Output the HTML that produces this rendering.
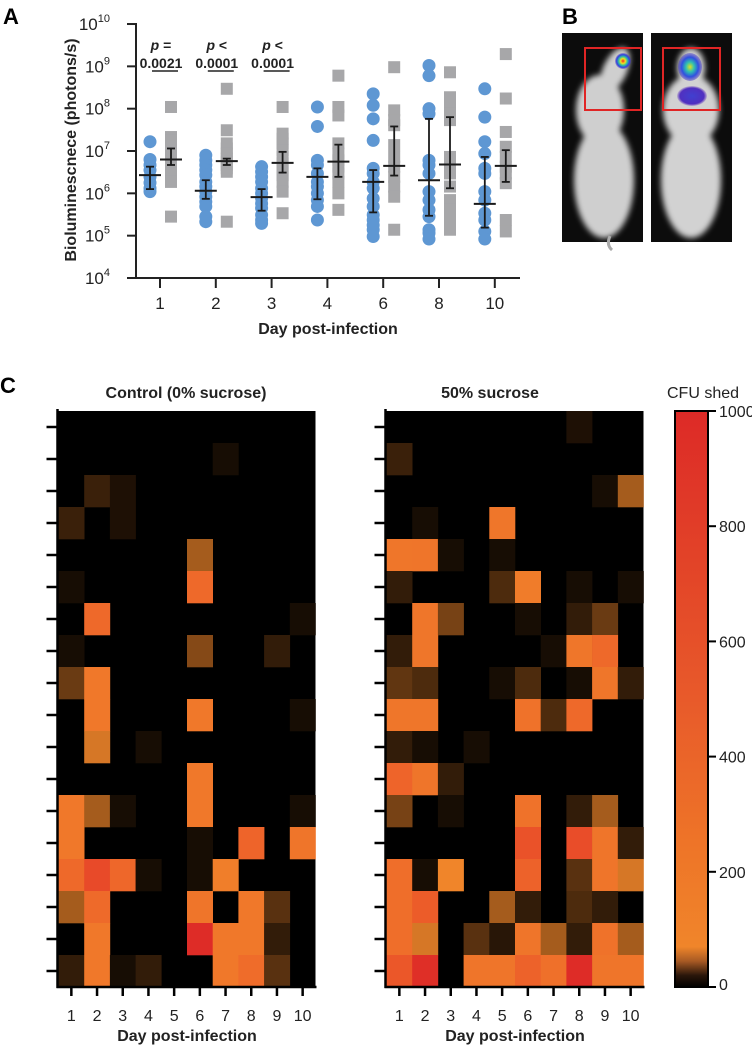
<!DOCTYPE html>
<html><head><meta charset="utf-8"><style>
body{margin:0;background:#fff;}
svg{display:block;font-family:"Liberation Sans",Arial,sans-serif;}
</style></head><body>
<svg id="fig" width="752" height="1048" viewBox="0 0 752 1048" xmlns="http://www.w3.org/2000/svg">
<defs>
<linearGradient id="cbar" x1="0" y1="1" x2="0" y2="0">
<stop offset="0" stop-color="#000"/><stop offset="0.02" stop-color="#2a160a"/><stop offset="0.045" stop-color="#a85a24"/><stop offset="0.07" stop-color="#f0852a"/><stop offset="0.25" stop-color="#ee7428"/><stop offset="0.5" stop-color="#e85a2a"/><stop offset="0.75" stop-color="#e24228"/><stop offset="1" stop-color="#dd2a27"/>
</linearGradient>
<radialGradient id="blob1"><stop offset="0" stop-color="#ff2020"/><stop offset="0.3" stop-color="#f0e020"/><stop offset="0.55" stop-color="#30c0a0"/><stop offset="0.8" stop-color="#3040e0"/><stop offset="1" stop-color="#4030c0" stop-opacity="0.3"/></radialGradient>
<radialGradient id="blob2"><stop offset="0" stop-color="#e0e020"/><stop offset="0.35" stop-color="#30c0b0"/><stop offset="0.7" stop-color="#3050e0"/><stop offset="1" stop-color="#4030c0" stop-opacity="0.4"/></radialGradient>
<radialGradient id="blob3"><stop offset="0" stop-color="#4040d0"/><stop offset="0.8" stop-color="#5030c0"/><stop offset="1" stop-color="#6030c0" stop-opacity="0.2"/></radialGradient>
<filter id="bl"><feGaussianBlur stdDeviation="3"/></filter>
</defs>

<!-- Panel labels -->
<text x="3" y="24" font-size="22" font-weight="bold">A</text>
<text x="562" y="24" font-size="22" font-weight="bold">B</text>
<text x="0" y="393" font-size="22" font-weight="bold">C</text>

<!-- Panel B -->
<g>
<rect x="562" y="33" width="81" height="209" fill="#0c0c0c"/>
<g filter="url(#bl)" fill="#cfcfcf">
<ellipse cx="604" cy="180" rx="30" ry="58"/><ellipse cx="600" cy="110" rx="24" ry="35"/><ellipse cx="615" cy="70" rx="12" ry="24" transform="rotate(25 615 70)"/>
</g>
<path d="M610 236 Q606 245 612 250" stroke="#aaa" stroke-width="3" fill="none"/>
<circle cx="623" cy="61" r="8" fill="url(#blob1)"/>
<rect x="585" y="48" width="56" height="62" fill="none" stroke="#e02525" stroke-width="2"/>
</g>
<g>
<rect x="651" y="33" width="81" height="209" fill="#0c0c0c"/>
<g filter="url(#bl)" fill="#d2d2d2">
<ellipse cx="691" cy="180" rx="30" ry="58"/><ellipse cx="691" cy="110" rx="28" ry="35"/><ellipse cx="691" cy="68" rx="14" ry="20"/>
</g>
<ellipse cx="690" cy="67" rx="12" ry="14" fill="url(#blob2)"/>
<ellipse cx="692" cy="96" rx="15" ry="10" fill="url(#blob3)"/>
<rect x="663" y="48" width="57" height="62" fill="none" stroke="#e02525" stroke-width="2"/>
</g>

<g id="panelA"></g>
<g id="panelC"></g>
</svg>
<script>
// ---------- Panel A data (log10 photons/s) ----------
const days = ["1","2","3","4","6","8","10"];
const ctrlPoints = [
 [7.22,6.80,6.67,6.55,6.39,6.25,6.12,6.04],
 [6.90,6.78,6.67,6.55,6.43,6.27,6.16,6.04,5.92,5.80,5.69,5.45,5.33],
 [6.63,6.51,6.39,6.27,6.12,6.00,5.88,5.76,5.65,5.49,5.37,5.29],
 [8.04,7.58,6.78,6.67,6.47,6.27,6.16,6.00,5.84,5.69,5.37],
 [8.35,8.08,7.76,7.25,6.59,6.47,6.27,6.12,5.88,5.69,5.49,5.37,5.25,5.14,4.98],
 [9.02,8.78,8.00,7.88,6.78,6.67,6.47,6.04,5.84,5.61,5.45,5.14,5.06,4.92],
 [8.47,7.80,7.22,6.94,6.59,6.47,6.04,5.84,5.53,5.37,5.10,4.92]
];
const sucPoints = [
 [8.04,7.33,7.25,7.10,6.94,6.82,6.71,6.59,6.47,6.27,5.45],
 [8.47,7.49,7.18,7.06,6.94,6.82,6.75,6.67,6.59,6.51,5.33],
 [8.04,7.41,7.29,7.18,7.02,6.86,6.71,6.55,6.43,6.27,6.04,5.53],
 [8.78,8.04,7.84,7.18,6.94,6.78,6.63,6.47,6.27,6.00,5.61],
 [8.98,7.96,7.73,7.61,7.14,6.86,6.63,6.39,6.16,5.92,5.14],
 [8.86,8.27,8.04,7.88,7.73,6.86,6.63,6.47,6.16,5.84,5.61,5.37,5.14],
 [9.29,8.24,7.45,7.10,6.86,6.63,6.47,6.24,5.37,5.10]
];
const ctrlMedian = [6.43,6.06,5.91,6.39,6.27,6.31,5.75];
const ctrlLow = [6.10,5.87,5.59,5.86,5.55,5.47,5.19];
const ctrlHigh = [6.63,6.31,6.10,6.59,6.55,7.76,6.86];
const sucMedian = [6.80,6.76,6.72,6.75,6.65,6.68,6.65];
const sucLow = [6.67,6.67,6.49,6.39,6.42,6.12,6.27];
const sucHigh = [7.06,6.82,6.98,7.15,7.58,7.80,7.02];
const yTickExp = [4,5,6,7,8,9,10];
const pLabels = [["p =","0.0021"],["p <","0.0001"],["p <","0.0001"]];

const NS="http://www.w3.org/2000/svg";
function mk(tag, attrs, parent){const e=document.createElementNS(NS,tag);for(const k in attrs)e.setAttribute(k,attrs[k]);if(parent)parent.appendChild(e);return e;}

// axes functions
const yA = v => 278 - (v-4)*42.33;
const xA = i => 160 + i*55.8;
const A = document.getElementById('panelA');
// axes
let ax = mk('line',{x1:136,y1:23,x2:136,y2:279,stroke:'#222','stroke-width':2},A);
 
let bx = mk('line',{x1:127,y1:278,x2:520,y2:278,stroke:'#222','stroke-width':2},A);
 
yTickExp.forEach(e=>{
  const y=yA(e);
  const t=mk('line',{x1:127,y1:y,x2:136,y2:y,stroke:'#222','stroke-width':2},A);
   
  const tx=mk('text',{x:104,y:y+6,'font-size':17,'text-anchor':'end',fill:'#222'},A);
  tx.textContent='10';
  const sp=mk('tspan',{'font-size':11,dy:-8},tx); sp.textContent=String(e);
   
  tx.setAttribute('x', 110);
});
days.forEach((d,i)=>{
  const x=xA(i);
  const t=mk('line',{x1:x,y1:278,x2:x,y2:288,stroke:'#222','stroke-width':2},A);
   
  const tx=mk('text',{x:x,y:309,'font-size':17,'text-anchor':'middle',fill:'#222'},A);
  tx.textContent=d;
   
});
let yl=mk('text',{x:0,y:0,'font-size':16,'font-weight':'bold','text-anchor':'middle',transform:'translate(76,150) rotate(-90)',fill:'#222'},A);
yl.textContent='Bioluminescnece (photons/s)';
 
let xl=mk('text',{x:328,y:334,'font-size':16,'font-weight':'bold','text-anchor':'middle',fill:'#222'},A);
xl.textContent='Day post-infection';
 

ctrlPoints.forEach((arr,i)=>{
  arr.forEach(v=>{
    const c=mk('circle',{cx:xA(i)-10,cy:yA(v),r:6.5,fill:'#5e97d3'},A);
     
  });
});
sucPoints.forEach((arr,i)=>{
  arr.forEach(v=>{
    const r=mk('rect',{x:xA(i)+11-6,y:yA(v)-6,width:12,height:12,fill:'#a7a7a9'},A);
     
  });
});
function errBar(cx,med,lo,hi,name){
  const g=mk('g',{stroke:'#1a1a1a','stroke-width':1.8},A);
   
  mk('line',{x1:cx,y1:yA(lo),x2:cx,y2:yA(hi)},g);
  mk('line',{x1:cx-4,y1:yA(lo),x2:cx+4,y2:yA(lo)},g);
  mk('line',{x1:cx-4,y1:yA(hi),x2:cx+4,y2:yA(hi)},g);
  mk('line',{x1:cx-11,y1:yA(med),x2:cx+11,y2:yA(med),'stroke-width':2},g);
}
days.forEach((d,i)=>{
  errBar(xA(i)-10,ctrlMedian[i],ctrlLow[i],ctrlHigh[i],'control-error-bar');
  errBar(xA(i)+11,sucMedian[i],sucLow[i],sucHigh[i],'sucrose-error-bar');
});
pLabels.forEach((p,i)=>{
  const cx=xA(i)+1;
  const t1=mk('text',{x:cx,y:50,'font-size':14,'font-weight':'bold','text-anchor':'middle',fill:'#222'},A);
  const it=mk('tspan',{'font-style':'italic'},t1); it.textContent='p';
  const rest=mk('tspan',{},t1); rest.textContent=' '+p[0].slice(2);
   
  const t2=mk('text',{x:cx,y:68,'font-size':14,'font-weight':'bold','text-anchor':'middle',fill:'#222'},A);
  t2.textContent=p[1];
   
  const l=mk('line',{x1:xA(i)-8,y1:71,x2:xA(i)+18,y2:71,stroke:'#222','stroke-width':1.5},A);
   
});

// ---------- Panel C data (CFU shed, rows top->bottom, cols day1..10) ----------
const heatDays = ["1","2","3","4","5","6","7","8","9","10"];
const controlCFU = [
 [0,0,0,0,0,0,0,0,0,0],
 [0,0,0,0,0,0,10,0,0,0],
 [0,20,12,0,0,0,0,0,0,0],
 [20,0,12,0,0,0,0,0,0,0],
 [0,0,0,0,0,45,0,0,0,0],
 [10,0,0,0,0,150,0,0,0,0],
 [0,150,0,0,0,0,0,0,0,10],
 [10,0,0,0,0,38,0,0,18,0],
 [32,80,0,0,0,0,0,0,0,0],
 [0,80,0,0,0,80,0,0,0,10],
 [0,55,0,10,0,0,0,0,0,0],
 [0,0,0,0,0,80,0,0,0,0],
 [80,45,10,0,0,80,0,0,0,10],
 [80,0,0,0,0,10,0,180,0,90],
 [150,450,160,10,0,10,65,0,0,0],
 [45,140,0,0,0,90,0,80,28,0],
 [0,80,0,0,0,950,80,80,18,0],
 [18,80,10,18,0,0,80,130,28,0]
];
const sucroseCFU = [
 [0,0,0,0,0,0,0,12,0,0],
 [20,0,0,0,0,0,0,0,0,0],
 [0,0,0,0,0,0,0,0,10,45],
 [0,10,0,0,85,0,0,0,0,0],
 [85,90,10,0,10,0,0,0,0,0],
 [18,0,0,0,25,70,0,10,0,10],
 [0,85,35,0,0,10,0,18,32,0],
 [18,85,0,0,0,0,10,85,150,0],
 [30,25,0,0,10,25,0,10,85,18],
 [85,85,0,0,0,100,25,150,0,0],
 [18,10,0,10,0,0,0,0,0,0],
 [180,90,18,0,0,0,0,0,0,0],
 [35,0,10,0,0,100,0,18,45,0],
 [0,0,0,0,0,350,0,420,90,18],
 [120,10,60,0,0,200,0,28,90,55],
 [120,250,0,0,45,18,0,25,18,0],
 [120,55,0,28,15,90,45,18,100,45],
 [300,900,0,90,90,200,110,950,90,90]
];
const cbarTicks = [0,200,400,600,800,1000];

function lerp(a,b,t){return Math.round(a+(b-a)*t);}
function cmap(v){
  if(v<=0) return 'rgb(0,0,0)';
  if(v<60){
    const t=v/60, t2=Math.pow(t,1.3);
    return `rgb(${lerp(0,240,t2)},${lerp(0,133,t2)},${lerp(0,42,t2)})`;
  }
  const t=Math.min(1,(v-60)/940);
  return `rgb(${lerp(240,221,t)},${lerp(133,42,Math.sqrt(t))},${lerp(42,39,t)})`;
}
const C=document.getElementById('panelC');
const rowY = r => 411 + r*32;
const rowH = 32, colW = 25.7;
function heat(x0,data,title,tcx,name){
  const g=mk('g',{},C);
   
  const w=colW*10;
  mk('rect',{x:x0,y:411,width:w,height:576,fill:'#000'},g);
  const colX = c => x0 + c*colW;
  data.forEach((row,r)=>row.forEach((v,c)=>{
    if(v<=0) return;
    const rc=mk('rect',{x:colX(c),y:rowY(r),width:colW+0.3,height:rowH+0.3,fill:cmap(v)},g);
     
  }));
  const ya=mk('line',{x1:x0-1,y1:409,x2:x0-1,y2:988,stroke:'#000','stroke-width':2.5},g);
   
  const xa=mk('line',{x1:x0-2,y1:987,x2:x0+w+1,y2:987,stroke:'#000','stroke-width':2.5},g);
   
  data.forEach((row,r)=>{
    const t=mk('line',{x1:x0-12,y1:rowY(r)+16,x2:x0,y2:rowY(r)+16,stroke:'#000','stroke-width':2.5},g);
     
  });
  heatDays.forEach((d,c)=>{
    const cx=colX(c)+colW/2;
    const t=mk('line',{x1:cx,y1:987,x2:cx,y2:996,stroke:'#000','stroke-width':2.5},g);
     
    const tx=mk('text',{x:cx,y:1021,'font-size':16,'text-anchor':'middle',fill:'#222'},g);
    tx.textContent=d;
     
  });
  const xl=mk('text',{x:x0+w/2,y:1041,'font-size':16,'font-weight':'bold','text-anchor':'middle',fill:'#222'},g);
  xl.textContent='Day post-infection';
   
  const tt=mk('text',{x:tcx,y:398,'font-size':16,'font-weight':'bold','text-anchor':'middle',fill:'#222'},g);
  tt.textContent=title;
   
}
heat(58.5,controlCFU,'Control (0% sucrose)',186,'control-heatmap');
heat(386.5,sucroseCFU,'50% sucrose',490,'sucrose-heatmap');

// colorbar
const cb=mk('g',{},C);
 
mk('rect',{x:675,y:411,width:33,height:576,fill:'url(#cbar)',stroke:'#000','stroke-width':2},cb);
const cbY = v => 987 - v/1000*576;
cbarTicks.forEach(v=>{
  const t=mk('line',{x1:708,y1:cbY(v),x2:716,y2:cbY(v),stroke:'#000','stroke-width':2},cb);
   
  const tx=mk('text',{x:719,y:Math.min(cbY(v)+6,990),'font-size':16,fill:'#222'},cb);
  tx.textContent=String(v);
   
});
const ct=mk('text',{x:667,y:398,'font-size':16,fill:'#222'},cb);
ct.textContent='CFU shed';
 
</script>
</body></html>
